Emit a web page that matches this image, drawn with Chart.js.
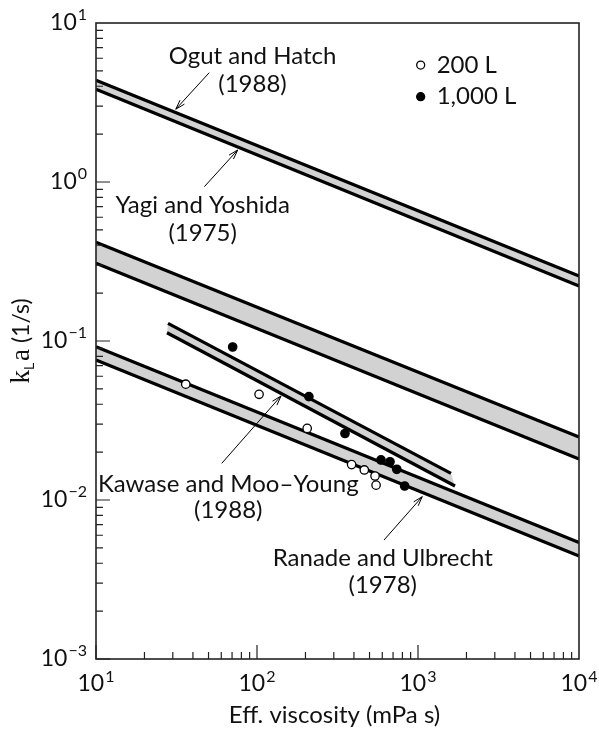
<!DOCTYPE html>
<html>
<head>
<meta charset="utf-8">
<script src="https://cdn.jsdelivr.net/npm/chart.js@4.4.0/dist/chart.umd.min.js"></script>
<style>
  html, body { margin: 0; padding: 0; background: #fff; }
</style>
</head>
<body>
<canvas id="kla" width="599" height="731"></canvas>
<script>
// Correlation lines, each as [viscosity (mPa s), kLa (1/s)] end points
const ogutHatch = [[10, 4.36], [10000, 0.256]];
const yagiYoshida = [[10, 3.83], [10000, 0.222]];
const midUpper = [[10, 0.418], [10000, 0.0249]];
const midLower = [[10, 0.308], [10000, 0.0181]];
const kawaseUpper = [[28.0, 0.129], [1603, 0.0147]];
const kawaseLower = [[27.6, 0.1127], [1698, 0.01225]];
const ranadeUpper = [[10, 0.092], [10000, 0.0054]];
const ranadeLower = [[10, 0.076], [10000, 0.00445]];

// Measured points
const visc200 = [36.1, 103, 205, 387, 464, 541, 549];
const kla200 = [0.0535, 0.0462, 0.0282, 0.0167, 0.01545, 0.01416, 0.0124];
const visc1000 = [70.6, 210, 352, 589, 670, 738, 826];
const kla1000 = [0.0917, 0.0447, 0.0262, 0.01786, 0.0174, 0.0156, 0.01225];

// Axes
const xTickValues = [10, 100, 1000, 10000];
const xTickExp = ['1', '2', '3', '4'];
const yTickValues = [10, 1, 0.1, 0.01, 0.001];
const yTickExp = ['1', '0', '\u22121', '\u22122', '\u22123'];
const xTitle = 'Eff. viscosity (mPa s)';

// Annotations: text lines anchored at [x, y] in data units, arrow tail -> tip
const notes = [
    { lines: ['Ogut and Hatch', '(1988)'], at: [[93.8, 6.20], [93.8, 4.13]], arrow: [[50.5, 4.87], [31.3, 2.87]] },
    { lines: ['Yagi and Yoshida', '(1975)'], at: [[46, 0.717], [46, 0.478]], arrow: [[47.1, 0.934], [75.9, 1.59]] },
    { lines: ['Kawase and Moo\u2013Young', '(1988)'], at: [[66.3, 0.0126], [66.3, 0.00865]], arrow: [[60.4, 0.0170], [141, 0.0451]] },
    { lines: ['Ranade and Ulbrecht', '(1978)'], at: [[604, 0.00432], [604, 0.00292]], arrow: [[615, 0.0056], [1063, 0.0105]] }
];
const legendItems = ['200 L', '1,000 L'];
const legendAt = [[1039, 5.44], [1039, 3.44]];

const FONT = 'Lato, "Open Sans", sans-serif';

function pts(line) {
    return line.map(p => ({ x: p[0], y: p[1] }));
}

// closed outline: along the upper line, back along the lower one
function band(upper, lower) {
    return pts(upper).concat(pts(lower).reverse());
}

function bandSet(upper, lower) {
    return {
        data: band(upper, lower),
        fill: 'shape',
        backgroundColor: '#d2d2d2',
        borderWidth: 0,
        pointRadius: 0,
        order: 3
    };
}

function lineSet(line) {
    return {
        data: pts(line),
        fill: false,
        borderColor: '#000',
        borderWidth: 3.2,
        borderCapStyle: 'butt',
        pointRadius: 0,
        order: 2
    };
}

function pointSet(xs, ys, filled) {
    return {
        data: xs.map((v, i) => ({ x: v, y: ys[i] })),
        showLine: false,
        pointRadius: 4.2,
        pointBorderWidth: 1.3,
        pointBorderColor: '#000',
        pointBackgroundColor: filled ? '#000' : '#fff',
        order: 1
    };
}

function powLabel(ctx, exp, px, py, align, raise) {
    ctx.font = '23px ' + FONT;
    const wb = ctx.measureText('10').width;
    ctx.font = '16px ' + FONT;
    const we = ctx.measureText(exp).width;
    const total = wb + 1 + we;
    const left = align === 'center' ? px - total / 2 : px - total;
    ctx.textAlign = 'left';
    ctx.textBaseline = 'alphabetic';
    ctx.font = '23px ' + FONT;
    ctx.fillText('10', left, py);
    ctx.font = '16px ' + FONT;
    ctx.fillText(exp, left + wb + 1, py - raise);
}

function arrow(ctx, x0, y0, x1, y1) {
    const ang = Math.atan2(y1 - y0, x1 - x0);
    const len = 10, spread = 0.3;
    ctx.beginPath();
    ctx.moveTo(x0, y0);
    ctx.lineTo(x1, y1);
    ctx.moveTo(x1 - len * Math.cos(ang - spread), y1 - len * Math.sin(ang - spread));
    ctx.lineTo(x1, y1);
    ctx.lineTo(x1 - len * Math.cos(ang + spread), y1 - len * Math.sin(ang + spread));
    ctx.stroke();
}

const decorations = {
    id: 'decorations',
    afterDatasetsDraw(chart) {
        const { ctx, chartArea: a, scales: { x, y } } = chart;
        ctx.save();
        ctx.fillStyle = '#111';
        ctx.strokeStyle = '#222';

        // frame
        ctx.lineWidth = 1.6;
        ctx.strokeRect(a.left, a.top, a.right - a.left, a.bottom - a.top);

        // inward ticks on the bottom and left axes
        ctx.lineWidth = 1.2;
        ctx.beginPath();
        for (let e = 1; e < 4; e++) {
            for (let m = 1; m < 10; m++) {
                const px = x.getPixelForValue(m * Math.pow(10, e));
                ctx.moveTo(px, a.bottom);
                ctx.lineTo(px, a.bottom - (m === 1 ? 14 : 7));
            }
        }
        for (let e = -3; e < 1; e++) {
            for (let m = 1; m < 10; m++) {
                const py = y.getPixelForValue(m * Math.pow(10, e));
                ctx.moveTo(a.left, py);
                ctx.lineTo(a.left + (m === 1 ? 14 : 7), py);
            }
        }
        ctx.stroke();

        // tick labels
        xTickValues.forEach((v, i) => {
            powLabel(ctx, xTickExp[i], x.getPixelForValue(v), a.bottom + 32, 'center', 9);
        });
        yTickValues.forEach((v, i) => {
            powLabel(ctx, yTickExp[i], a.left - 9, y.getPixelForValue(v) + 7, 'right', 10);
        });

        // axis titles
        ctx.font = '24px ' + FONT;
        ctx.textAlign = 'center';
        ctx.textBaseline = 'alphabetic';
        ctx.fillText(xTitle, (a.left + a.right) / 2 - 3, a.bottom + 64);

        ctx.save();
        ctx.translate(29, (a.top + a.bottom) / 2);
        ctx.rotate(-Math.PI / 2);
        const parts = [
            { t: 'k', f: '27px "Liberation Serif", serif', dy: 0, gap: 0 },
            { t: 'L', f: '14px ' + FONT, dy: 5, gap: 0 },
            { t: 'a', f: '27px "Liberation Serif", serif', dy: 0, gap: 2 },
            { t: ' (1/s)', f: '23px ' + FONT, dy: 0, gap: 0 }
        ];
        let w = 0;
        parts.forEach(p => { ctx.font = p.f; p.w = ctx.measureText(p.t).width; w += p.w + p.gap; });
        let cx = -w / 2;
        ctx.textAlign = 'left';
        parts.forEach(p => {
            ctx.font = p.f;
            cx += p.gap;
            ctx.fillText(p.t, cx, p.dy);
            cx += p.w;
        });
        ctx.restore();

        // annotations
        ctx.font = '24px ' + FONT;
        ctx.textAlign = 'center';
        ctx.textBaseline = 'middle';
        ctx.lineWidth = 1;
        ctx.strokeStyle = '#000';
        notes.forEach(n => {
            n.lines.forEach((t, i) => {
                ctx.fillText(t, x.getPixelForValue(n.at[i][0]), y.getPixelForValue(n.at[i][1]));
            });
            arrow(ctx,
                x.getPixelForValue(n.arrow[0][0]), y.getPixelForValue(n.arrow[0][1]),
                x.getPixelForValue(n.arrow[1][0]), y.getPixelForValue(n.arrow[1][1]));
        });

        // legend
        ctx.textAlign = 'left';
        legendItems.forEach((t, i) => {
            const px = x.getPixelForValue(legendAt[i][0]);
            const py = y.getPixelForValue(legendAt[i][1]);
            ctx.beginPath();
            ctx.arc(px, py, 4, 0, Math.PI * 2);
            ctx.fillStyle = i === 0 ? '#fff' : '#000';
            ctx.fill();
            ctx.lineWidth = 1.3;
            ctx.stroke();
            ctx.fillStyle = '#111';
            ctx.fillText(t, px + 16, py);
        });
        ctx.restore();
    }
};

new Chart(document.getElementById('kla'), {
    type: 'line',
    data: {
        datasets: [
            bandSet(ogutHatch, yagiYoshida),
            bandSet(midUpper, midLower),
            bandSet(kawaseUpper, kawaseLower),
            bandSet(ranadeUpper, ranadeLower),
            lineSet(ogutHatch),
            lineSet(yagiYoshida),
            lineSet(midUpper),
            lineSet(midLower),
            lineSet(kawaseUpper),
            lineSet(kawaseLower),
            lineSet(ranadeUpper),
            lineSet(ranadeLower),
            pointSet(visc200, kla200, false),
            pointSet(visc1000, kla1000, true)
        ]
    },
    options: {
        responsive: false,
        animation: false,
        events: [],
        layout: { padding: { left: 96, right: 20, top: 23, bottom: 72 } },
        scales: {
            x: { type: 'logarithmic', min: 10, max: 10000, display: false },
            y: { type: 'logarithmic', min: 0.001, max: 10, display: false }
        },
        plugins: {
            legend: { display: false },
            tooltip: { enabled: false }
        }
    },
    plugins: [decorations]
});
</script>
</body>
</html>
